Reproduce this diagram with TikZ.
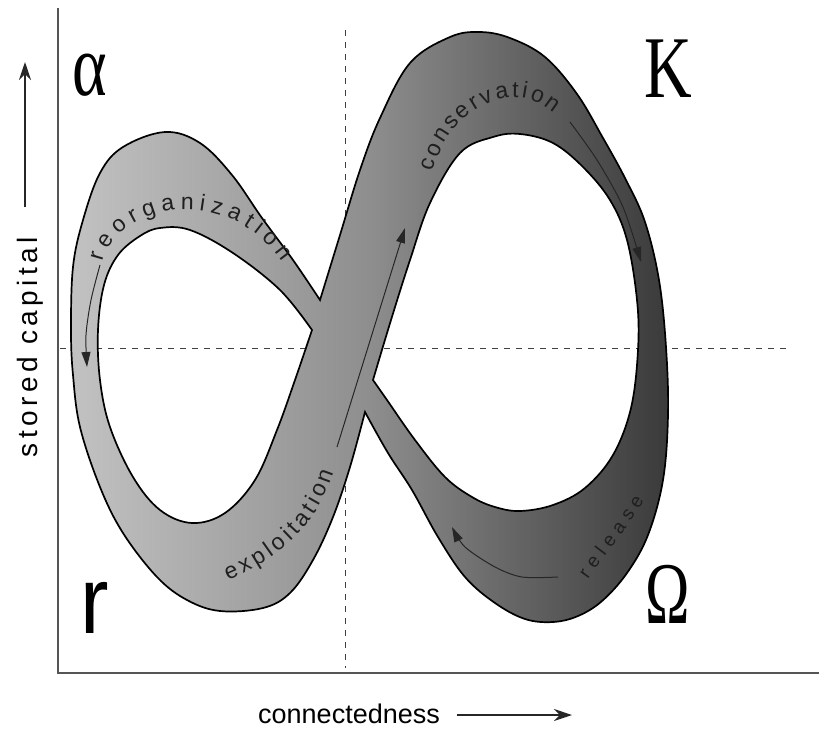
\documentclass[tikz,border=0pt]{standalone}
\usepackage{fontspec}
\setmainfont{Liberation Sans}
\newfontfamily\serifL{Liberation Serif}
\newfontfamily\sansL{Liberation Sans}
\newfontfamily\sansLS[LetterSpace=16]{Liberation Sans}
\usetikzlibrary{arrows.meta,decorations.text}
\definecolor{bandL}{HTML}{C2C2C2}
\definecolor{bandM}{HTML}{8E8E8E}
\definecolor{bandR}{HTML}{3A3A3A}
\definecolor{axisgray}{HTML}{555555}
\newcommand\bandfont{\sansL\fontsize{23}{23}\selectfont}
\newcommand\smallbandfont{\sansL\fontsize{19}{19}\selectfont}
\tikzset{
  dashline/.style={dash pattern=on 6pt off 6pt, line width=1pt, draw=black!75},
  axisline/.style={line width=1.5pt, draw=axisgray},
  axisarrow/.style={line width=1.3pt, draw=black!85, -{Stealth[length=18pt,width=12pt]}},
  bandshape/.style={draw=black, line width=1.7pt, even odd rule, left color=bandL, right color=bandR, middle color=bandM},
  bandarrow/.style={line width=1pt, draw=black!85, -{Triangle[length=15pt,width=9pt]}},
  bandtext/.style={decorate, decoration={text along path, text format delimiters={|}{|}, text={#1}, text align={fit to path}, text color=black!88}},
  bigserif/.style={font=\serifL\fontsize{88}{88}\selectfont, inner sep=0pt, anchor=base},
  bigsans/.style={font=\sansL\fontsize{95}{95}\selectfont, inner sep=0pt, anchor=base}
}
\begin{document}
\begin{tikzpicture}[x=1pt,y=-1pt]
\useasboundingbox (0,0) rectangle (819,729);
\fill[white] (0,0) rectangle (819,729);

% dashed quadrant lines
\draw[dashline] (345,30) -- (345,668);
\draw[dashline] (60,348) -- (788,348);

% axes
\draw[axisline] (58,8) -- (58,673) -- (819,673);

% figure-eight band
\path[bandshape]
  plot[smooth,tension=0.6] coordinates {(320,300) (293,260) (262,218) (232,175) (200,143) (165,132) (123,147) (100,173) (83,220) (73,267) (71,330) (73,375) (80,427) (100,487) (123,533) (157,577) (187,600) (220,611) (263,608) (290,593) (313,560) (333,517) (350,467) (365,412)}
  -- plot[smooth,tension=0.6] coordinates {(365,412) (388,453) (412,490) (438,537) (465,577) (495,603) (525,619) (553,622) (578,616) (602,601) (627,573) (648,535) (663,480) (668,415) (666,347) (659,280) (645,222) (626,180) (603,138) (577,94) (545,57) (510,38) (480,32) (450,37) (410,63) (380,118) (360,170) (340,235) (320,300)}
  -- cycle
  plot[smooth,tension=0.6] coordinates {(312,330) (280,290) (233,253) (190,230) (160,228) (140,236) (118,255) (104,285) (98,330) (100,380) (110,427) (133,477) (160,510) (192,523) (225,513) (255,480) (277,430) (295,380) (312,330)}
  -- cycle
  plot[smooth,tension=0.6] coordinates {(373,380) (391,320) (410,260) (430,203) (460,153) (493,137) (520,134) (553,143) (583,167) (610,200) (627,240) (637,300) (638,350) (631,408) (613,455) (585,488) (553,505) (520,511) (495,507) (472,497) (445,477) (415,440) (387,400) (373,380)}
  -- cycle;

% arrows inside the band
\draw[bandarrow] plot[smooth] coordinates {(100,265) (91,300) (86,335) (87,367)};
\draw[bandarrow] plot[smooth] coordinates {(570,122) (597,160) (623,207) (641,262)};
\draw[bandarrow] (337,447) -- (405,228);
\draw[bandarrow] plot[smooth] coordinates {(558,577) (522,577) (495,567) (465,547) (452,527)};

% labels along the band
\path[bandtext={|\bandfont|reorganization}] (103,262) .. controls (115,205) and (225,180) .. (282,262);
\path[bandtext={|\bandfont|conservation}] (433,172) .. controls (447,112) and (510,75) .. (554,113);
\path[bandtext={|\bandfont|exploitation}] (228,580) .. controls (275,560) and (315,530) .. (334,472);
\path[bandtext={|\smallbandfont|release}] (588,579) .. controls (605,554) and (625,532) .. (644,500);

% phase letters
\node[bigserif, xscale=0.75] (alpha) at (90,95) {α};
\node[bigserif, xscale=0.75] (K) at (668,97) {K};
\node[bigserif, xscale=0.68] (Omega) at (668,623) {Ω};
\node[bigsans, xscale=0.9] (r) at (95,633) {r};

% axis labels
\node[rotate=90, anchor=base, inner sep=0pt, font=\sansLS\fontsize{28}{28}\selectfont] (ylab) at (37,347) {stored capital};
\node[anchor=base west, inner sep=0pt, font=\sansL\fontsize{27}{27}\selectfont] (xlab) at (258,723) {connectedness};
\coordinate (ya) at (25,207);
\coordinate (yb) at (25,62);
\coordinate (xa) at (457,715);
\coordinate (xb) at (572,715);
\draw[axisarrow] (ya) -- (yb);
\draw[axisarrow] (xa) -- (xb);
\end{tikzpicture}
\end{document}
